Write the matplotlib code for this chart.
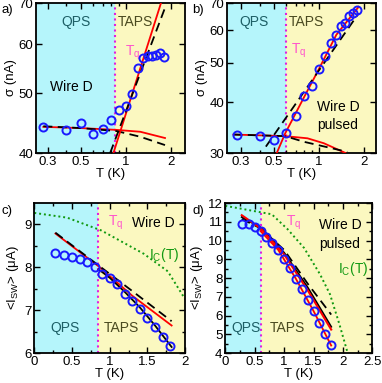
import matplotlib
matplotlib.use("Agg")
import matplotlib.pyplot as plt
from matplotlib.ticker import FixedLocator, NullFormatter, MultipleLocator

plt.rcParams['font.family'] = ['Liberation Sans', 'DejaVu Sans']
plt.rcParams['mathtext.fontset'] = 'custom'
plt.rcParams['mathtext.rm'] = 'Liberation Sans'
plt.rcParams['mathtext.it'] = 'Liberation Sans'
plt.rcParams['font.size'] = 9.5

# temperatures (K)
T = [0.28, 0.4, 0.5, 0.6, 0.7, 0.8, 0.9, 1.0, 1.1, 1.2, 1.3, 1.4, 1.5, 1.6, 1.7, 1.8]

# a) sigma, wire D
sig_a = [44.1, 43.6, 44.7, 42.9, 43.8, 45.2, 46.9, 47.6, 49.8, 54.9, 57.0, 57.4, 57.5, 57.7, 58.1, 57.3]
a_red_low_T = [0.28, 0.5, 0.87, 1.25, 1.83]
a_red_low = [44.1, 43.9, 43.6, 43.3, 42.3]
a_blk_low_T = [0.28, 0.5, 0.87, 1.25, 1.83]
a_blk_low = [44.2, 43.9, 43.4, 42.5, 41.2]
a_red_hi_T = [0.826, 1.72]
a_red_hi = [40.0, 70.0]
a_blk_hi_T = [0.785, 1.84]
a_blk_hi = [40.0, 69.0]

# b) sigma, wire D pulsed
sig_b = [33.2, 33.1, 32.3, 33.5, 36.9, 41.3, 43.9, 48.2, 51.8, 56.0, 58.5, 61.6, 62.5, 65.0, 66.3, 67.4]
b_red_low_T = [0.266, 0.593, 0.838, 1.08, 1.51]
b_red_low = [33.3, 33.0, 32.6, 31.7, 30.0]
b_blk_low_T = [0.266, 0.593, 0.794, 1.55]
b_blk_low = [33.3, 33.0, 31.96, 30.2]
b_red_hi_T = [0.521, 0.593, 0.794, 1.0, 1.31, 1.85]
b_red_hi = [30.0, 33.5, 41.1, 48.2, 58.5, 68.5]
b_blk_hi_T = [0.44, 1.85]
b_blk_hi = [31.1, 66.0]

# c) <I_SW>, wire D
isw_c = [8.33, 8.28, 8.24, 8.18, 8.12, 8.0, 7.85, 7.74, 7.60, 7.38, 7.21, 7.03, 6.82, 6.61, 6.38, 6.16]
c_red_T = [0.28, 0.85, 1.3, 1.82]
c_red = [8.78, 8.02, 7.33, 6.64]
c_dash_T = [0.28, 0.85, 1.3, 1.82]
c_dash = [8.80, 8.04, 7.44, 6.74]
c_fit_T = [0.85, 1.0, 1.2, 1.4, 1.6, 1.82]
c_fit = [7.95, 7.75, 7.42, 7.06, 6.64, 6.14]
c_ic_T = [0.0, 0.435, 0.89, 1.45, 1.77, 2.0]
c_ic = [9.26, 9.15, 8.85, 8.31, 7.9, 7.25]

# d) <I_SW>, wire D pulsed
isw_d = [10.9, 10.86, 10.72, 10.5, 10.2, 9.85, 9.48, 9.03, 8.55, 7.96, 7.4, 6.83, 6.24, 5.62, 5.03, 4.41]
d_red_T = [0.28, 0.6, 1.0, 1.4, 1.8]
d_red = [11.35, 10.65, 9.26, 7.35, 5.25]
d_blk_T = [0.28, 0.6, 1.0, 1.4, 1.8]
d_blk = [11.25, 10.7, 9.35, 7.5, 5.4]
d_dash_T = [0.28, 0.6, 1.0, 1.4, 1.8]
d_dash = [11.15, 10.65, 9.5, 7.7, 6.05]
d_fit_T = [0.6, 0.9, 1.2, 1.5, 1.8]
d_fit = [10.5, 9.5, 7.96, 6.24, 4.4]
d_ic_T = [0.0, 0.79, 1.06, 1.34, 1.61, 1.78, 1.94, 2.08]
d_ic = [11.85, 11.4, 10.6, 9.6, 8.2, 7.13, 5.53, 4.0]

Tq_D = 0.85
Tq_P = 0.6

CYAN = '#b5f5fb'
YELLOW = '#fbf8c0'
QPS_C = '#1d5f66'
TAPS_C = '#4a4a20'
PINK = '#ff55cc'
MAG = '#e020e0'
BLUE = '#1a1aff'

fig = plt.figure(figsize=(3.82, 3.83), dpi=100)
ax_a = fig.add_axes([0.0942, 0.6005, 0.390, 0.3916])
ax_b = fig.add_axes([0.5942, 0.6005, 0.390, 0.3916])
ax_c = fig.add_axes([0.0898, 0.0783, 0.395, 0.3916])
ax_d = fig.add_axes([0.5898, 0.0783, 0.385, 0.3916])


def regions(ax, tq, x0, x1):
    ax.axvspan(x0, tq, color=CYAN, zorder=0, lw=0)
    ax.axvspan(tq, x1, color=YELLOW, zorder=0, lw=0)
    ax.axvline(tq, color=MAG, ls=':', lw=1.5, zorder=1)
    ax.set_xlim(x0, x1)


def style(ax):
    ax.tick_params(which='both', direction='in', top=True, right=True,
                   width=1.0, pad=2, labelsize=9.5)
    ax.tick_params(which='major', length=4)
    ax.tick_params(which='minor', length=2.5)
    for s in ax.spines.values():
        s.set_linewidth(1.3)


def points(ax, y):
    ax.plot(T, y, 'o', ms=5.8, mfc='none', mec=BLUE, mew=1.4, zorder=5)


def log_axes(ax, yticks):
    ax.set_xscale('log')
    ax.set_yscale('log')
    ax.xaxis.set_major_locator(FixedLocator([0.3, 0.5, 1, 2]))
    ax.xaxis.set_major_formatter(plt.FixedFormatter(['0.3', '0.5', '1', '2']))
    ax.xaxis.set_minor_locator(FixedLocator([0.4, 0.6, 0.7, 0.8, 0.9]))
    ax.xaxis.set_minor_formatter(NullFormatter())
    ax.yaxis.set_major_locator(FixedLocator(yticks))
    ax.yaxis.set_major_formatter(plt.FixedFormatter([str(v) for v in yticks]))
    ax.yaxis.set_minor_locator(FixedLocator([]))
    ax.yaxis.set_minor_formatter(NullFormatter())


dash = (0, (5, 3))

# a)
regions(ax_a, Tq_D, 0.25, 2.49)
ax_a.plot(a_red_low_T, a_red_low, color='red', lw=1.3, zorder=3)
ax_a.plot(a_blk_low_T, a_blk_low, color='black', lw=1.3, ls=dash, zorder=3)
ax_a.plot(a_red_hi_T, a_red_hi, color='red', lw=1.3, zorder=3)
ax_a.plot(a_blk_hi_T, a_blk_hi, color='black', lw=1.3, ls=dash, zorder=3)
points(ax_a, sig_a)
ax_a.set_ylim(40, 70)
log_axes(ax_a, [40, 50, 60, 70])
ax_a.set_xlabel('T (K)', labelpad=0)
ax_a.set_ylabel('σ (nA)', labelpad=1)
ax_a.text(0.27, 0.875, 'QPS', transform=ax_a.transAxes, ha='center', va='center', color=QPS_C, fontsize=10)
ax_a.text(0.665, 0.875, 'TAPS', transform=ax_a.transAxes, ha='center', va='center', color=TAPS_C, fontsize=10)
ax_a.text(0.6, 0.665, r'T$_\mathrm{q}$', transform=ax_a.transAxes, ha='left', va='center', color=PINK, fontsize=10)
ax_a.text(0.24, 0.44, 'Wire D', transform=ax_a.transAxes, ha='center', va='center', color='black', fontsize=10)
style(ax_a)

# b)
regions(ax_b, Tq_P, 0.241, 2.42)
ax_b.plot(b_red_low_T, b_red_low, color='red', lw=1.3, zorder=3)
ax_b.plot(b_blk_low_T, b_blk_low, color='black', lw=1.3, ls=dash, zorder=3)
ax_b.plot(b_red_hi_T, b_red_hi, color='red', lw=1.3, zorder=3)
ax_b.plot(b_blk_hi_T, b_blk_hi, color='black', lw=1.3, ls=dash, zorder=3)
points(ax_b, sig_b)
ax_b.set_ylim(30, 70)
log_axes(ax_b, [30, 40, 50, 60, 70])
ax_b.set_xlabel('T (K)', labelpad=0)
ax_b.set_ylabel('σ (nA)', labelpad=1)
ax_b.text(0.18, 0.875, 'QPS', transform=ax_b.transAxes, ha='center', va='center', color=QPS_C, fontsize=10)
ax_b.text(0.53, 0.875, 'TAPS', transform=ax_b.transAxes, ha='center', va='center', color=TAPS_C, fontsize=10)
ax_b.text(0.43, 0.68, r'T$_\mathrm{q}$', transform=ax_b.transAxes, ha='left', va='center', color=PINK, fontsize=10)
ax_b.text(0.745, 0.31, 'Wire D', transform=ax_b.transAxes, ha='center', va='center', color='black', fontsize=10)
ax_b.text(0.745, 0.185, 'pulsed', transform=ax_b.transAxes, ha='center', va='center', color='black', fontsize=10)
style(ax_b)

# c)
regions(ax_c, Tq_D, 0, 2)
ax_c.plot(c_ic_T, c_ic, color='#119911', ls=(0, (1, 1.5)), lw=1.4, zorder=2)
ax_c.plot(c_red_T, c_red, color='red', lw=1.3, zorder=3)
ax_c.plot(c_dash_T, c_dash, color='black', lw=1.3, ls=dash, zorder=3)
ax_c.plot(c_fit_T, c_fit, color='black', lw=1.3, zorder=4)
points(ax_c, isw_c)
ax_c.set_ylim(6, 9.49)
ax_c.xaxis.set_major_locator(MultipleLocator(0.5))
ax_c.xaxis.set_major_formatter(plt.FuncFormatter(lambda v, p: f'{v:g}'))
ax_c.xaxis.set_minor_locator(MultipleLocator(0.25))
ax_c.yaxis.set_major_locator(MultipleLocator(1))
ax_c.yaxis.set_minor_locator(MultipleLocator(0.5))
ax_c.set_xlabel('T (K)', labelpad=0)
ax_c.set_ylabel(r'<I$_\mathrm{SW}$> (μA)', labelpad=2)
ax_c.text(0.49, 0.865, r'T$_\mathrm{q}$', transform=ax_c.transAxes, ha='left', va='center', color=PINK, fontsize=10)
ax_c.text(0.79, 0.865, 'Wire D', transform=ax_c.transAxes, ha='center', va='center', color='black', fontsize=10)
ax_c.text(0.86, 0.655, r'I$_\mathrm{C}$(T)', transform=ax_c.transAxes, ha='center', va='center', color='#119911', fontsize=10)
ax_c.text(0.205, 0.165, 'QPS', transform=ax_c.transAxes, ha='center', va='center', color=QPS_C, fontsize=10)
ax_c.text(0.58, 0.165, 'TAPS', transform=ax_c.transAxes, ha='center', va='center', color=TAPS_C, fontsize=10)
style(ax_c)

# d)
regions(ax_d, Tq_P, 0, 2.5)
ax_d.plot(d_ic_T, d_ic, color='#119911', ls=(0, (1, 1.5)), lw=1.4, zorder=2)
ax_d.plot(d_dash_T, d_dash, color='black', lw=1.3, ls=dash, zorder=3)
ax_d.plot(d_blk_T, d_blk, color='black', lw=1.3, zorder=3)
ax_d.plot(d_red_T, d_red, color='red', lw=1.5, zorder=3)
ax_d.plot(d_fit_T, d_fit, color='red', lw=1.3, zorder=4)
points(ax_d, isw_d)
ax_d.set_ylim(4, 12)
ax_d.xaxis.set_major_locator(MultipleLocator(0.5))
ax_d.xaxis.set_major_formatter(plt.FuncFormatter(lambda v, p: f'{v:g}'))
ax_d.xaxis.set_minor_locator(MultipleLocator(0.25))
ax_d.yaxis.set_major_locator(MultipleLocator(1))
ax_d.yaxis.set_minor_locator(MultipleLocator(0.5))
ax_d.set_xlabel('T (K)', labelpad=0)
ax_d.set_ylabel(r'<I$_\mathrm{SW}$> (μA)', labelpad=2)
ax_d.text(0.41, 0.865, r'T$_\mathrm{q}$', transform=ax_d.transAxes, ha='left', va='center', color=PINK, fontsize=10)
ax_d.text(0.78, 0.855, 'Wire D', transform=ax_d.transAxes, ha='center', va='center', color='black', fontsize=10)
ax_d.text(0.78, 0.73, 'pulsed', transform=ax_d.transAxes, ha='center', va='center', color='black', fontsize=10)
ax_d.text(0.87, 0.56, r'I$_\mathrm{C}$(T)', transform=ax_d.transAxes, ha='center', va='center', color='#119911', fontsize=10)
ax_d.text(0.14, 0.17, 'QPS', transform=ax_d.transAxes, ha='center', va='center', color=QPS_C, fontsize=10)
ax_d.text(0.42, 0.17, 'TAPS', transform=ax_d.transAxes, ha='center', va='center', color=TAPS_C, fontsize=10)
style(ax_d)

fig.text(0.003, 0.975, 'a)', fontsize=9.5, va='center')
fig.text(0.503, 0.975, 'b)', fontsize=9.5, va='center')
fig.text(0.003, 0.45, 'c)', fontsize=9.5, va='center')
fig.text(0.503, 0.45, 'd)', fontsize=9.5, va='center')

fig.savefig('out.png', dpi=100)
